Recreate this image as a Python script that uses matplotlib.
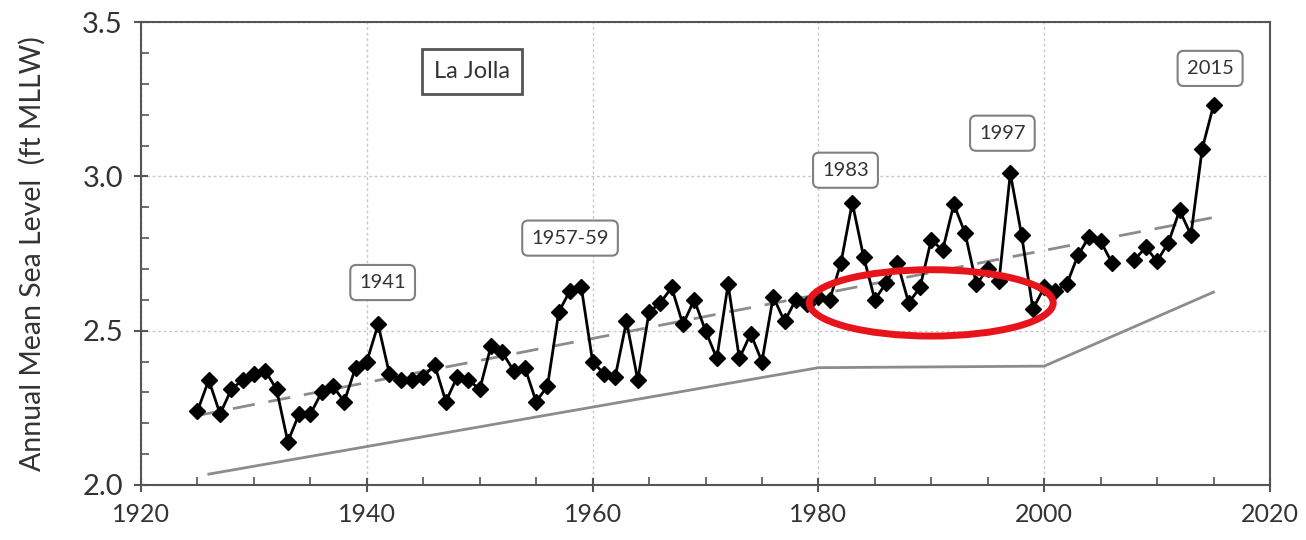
import numpy as np
import matplotlib
matplotlib.use('Agg')
import matplotlib.pyplot as plt
from matplotlib.patches import Ellipse
from matplotlib.ticker import MultipleLocator

plt.rcParams['font.family'] = ['Lato', 'DejaVu Sans']

# Annual mean sea level, La Jolla (ft MLLW); 2007 missing
years = np.arange(1925, 2016)
sea_level = [
    2.24, 2.34, 2.23, 2.31, 2.34, 2.36, 2.37, 2.31, 2.14, 2.23,   # 1925-1934
    2.23, 2.30, 2.32, 2.27, 2.38, 2.40, 2.52, 2.36, 2.34, 2.34,   # 1935-1944
    2.35, 2.39, 2.27, 2.35, 2.34, 2.31, 2.45, 2.43, 2.37, 2.38,   # 1945-1954
    2.27, 2.32, 2.56, 2.63, 2.64, 2.40, 2.36, 2.35, 2.53, 2.34,   # 1955-1964
    2.56, 2.59, 2.64, 2.52, 2.60, 2.50, 2.41, 2.65, 2.41, 2.49,   # 1965-1974
    2.40, 2.61, 2.53, 2.60, 2.585, 2.61, 2.60, 2.72, 2.915, 2.74, # 1975-1984
    2.60, 2.655, 2.72, 2.59, 2.64, 2.795, 2.76, 2.91, 2.815, 2.65, # 1985-1994
    2.70, 2.66, 3.01, 2.81, 2.57, 2.64, 2.63, 2.65, 2.745, 2.805, # 1995-2004
    2.79, 2.72, np.nan, 2.73, 2.77, 2.725, 2.785, 2.89, 2.81, 3.09, # 2005-2014
    3.23,                                                         # 2015
]

# linear trend (dashed) end points
trend_years = [1925, 2015]
trend_vals = [2.225, 2.867]

# lower reference line (solid gray)
ref_years = [1926, 1980, 2000, 2015]
ref_vals = [2.035, 2.38, 2.385, 2.625]

# annotation labels
label_text = ['1941', '1957-59', '1983', '1997', '2015']
label_x = [1941.4, 1958.0, 1982.4, 1996.3, 2014.7]
label_y = [2.656, 2.80, 3.02, 3.14, 3.35]

fig = plt.figure(figsize=(13.06, 5.4), dpi=100)
ax = fig.add_axes([0.108, 0.102, 0.8644, 0.857])

ax.plot(ref_years, ref_vals, color='#8c8c8c', lw=2, zorder=2)
ax.plot(trend_years, trend_vals, color='#8c8c8c', lw=2, ls=(0, (8, 5)), zorder=2)
ax.plot(years, sea_level, color='black', lw=2, marker='D', ms=8,
        markerfacecolor='black', zorder=3)

for t, x, y in zip(label_text, label_x, label_y):
    ax.text(x, y, t, ha='center', va='center', fontsize=14.5, color='#333333',
            bbox=dict(boxstyle='round,pad=0.45,rounding_size=0.3',
                      fc='white', ec='#808080', lw=1.5), zorder=5)

ax.text(1949.3, 3.34, 'La Jolla', ha='center', va='center', fontsize=17,
        color='#333333',
        bbox=dict(boxstyle='square,pad=0.5', fc='white', ec='#555555', lw=2),
        zorder=5)

ax.add_patch(Ellipse((1990.0, 2.59), 21.6, 0.215, fill=False,
                     ec='#e8141b', lw=5, zorder=6))

ax.set_xlim(1920, 2020)
ax.set_ylim(2.0, 3.5)
ax.xaxis.set_major_locator(MultipleLocator(20))
ax.xaxis.set_minor_locator(MultipleLocator(5))
ax.yaxis.set_major_locator(MultipleLocator(0.5))
ax.yaxis.set_minor_locator(MultipleLocator(0.1))
ax.yaxis.set_major_formatter(matplotlib.ticker.FormatStrFormatter('%.1f'))

ax.grid(which='major', color='#c8c8c8', ls=(0, (2, 2)), lw=1)
ax.tick_params(which='major', direction='inout', length=10, width=1.5,
               labelsize=18, labelcolor='#333333', color='#555555', pad=8)
ax.tick_params(axis='y', which='major', labelsize=21)
ax.tick_params(which='minor', direction='in', length=6, width=1.2,
               color='#555555')
for s in ax.spines.values():
    s.set_color('#555555')
    s.set_linewidth(1.5)

ax.set_ylabel('Annual Mean Sea Level  (ft MLLW)', fontsize=20.5,
              color='#333333', labelpad=26)

fig.savefig('out.png', dpi=100)
